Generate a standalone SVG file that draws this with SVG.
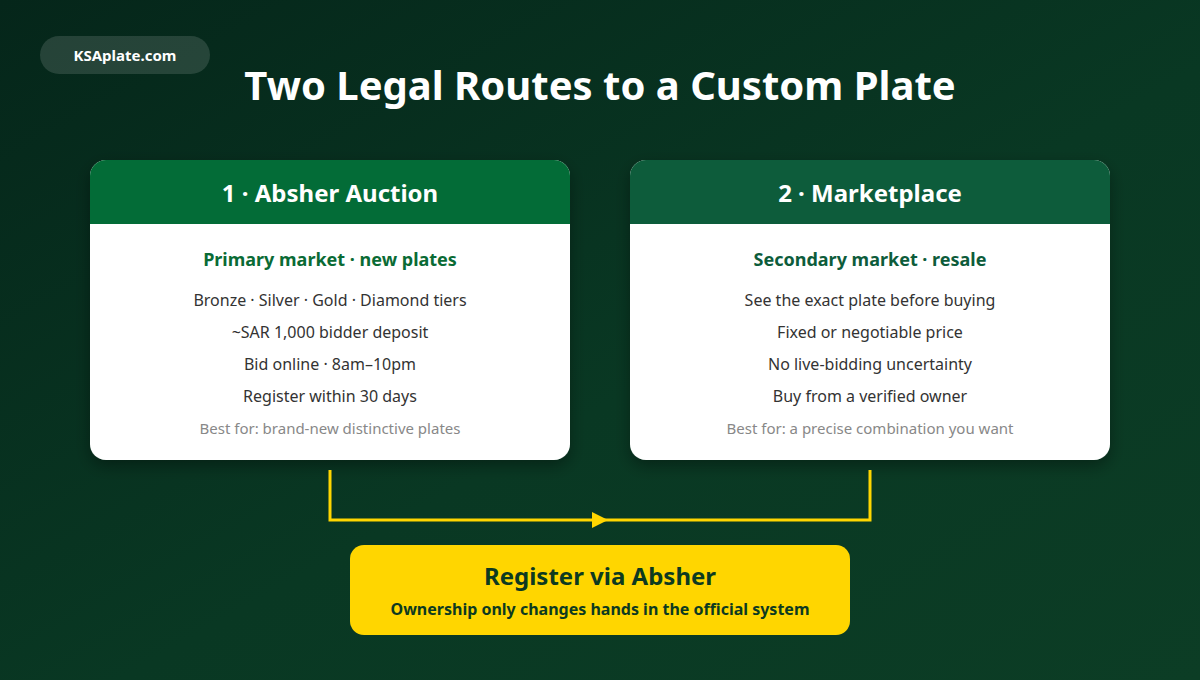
<svg xmlns="http://www.w3.org/2000/svg" width="1200" height="680" viewBox="0 0 1200 680">
<defs>
<linearGradient id="bg" x1="0" y1="0" x2="1" y2="1">
<stop offset="0" stop-color="#05261a"/>
<stop offset="0.55" stop-color="#093823"/>
<stop offset="1" stop-color="#0c3d25"/>
</linearGradient>
<filter id="sh" x="-10%" y="-10%" width="120%" height="130%">
<feDropShadow dx="0" dy="6" stdDeviation="8" flood-color="#000" flood-opacity="0.35"/>
</filter>
<clipPath id="c1"><rect x="90" y="160" width="480" height="300" rx="16"/></clipPath>
<clipPath id="c2"><rect x="630" y="160" width="480" height="300" rx="16"/></clipPath>
<marker id="arr" viewBox="0 0 16 16" refX="8" refY="8" markerWidth="16" markerHeight="16" markerUnits="userSpaceOnUse" orient="auto">
<path d="M0,0 L16,8 L0,16 Z" fill="#ffd600"/>
</marker>
</defs>
<style>
text{font-family:"Noto Sans","Open Sans","DejaVu Sans",sans-serif;text-anchor:middle}
.hdr{font-size:24px;font-weight:700;fill:#fff}
.sub{font-size:18px;font-weight:700}
.ln{font-size:16px;fill:#333}
.best{font-size:15px;fill:#888}
.conn{fill:none;stroke:#ffd600;stroke-width:3}
</style>
<rect width="1200" height="680" fill="url(#bg)"/>
<g id="badge">
<rect x="40" y="36" width="170" height="38" rx="19" fill="#ffffff" fill-opacity="0.13"/>
<text x="125" y="61" style="font-size:15px;font-weight:700;fill:#fff">KSAplate.com</text>
</g>
<g id="title">
<text x="600" y="100" style="font-size:40px;font-weight:700;fill:#fff">Two Legal Routes to a Custom Plate</text>
</g>
<g id="card1">
<rect x="90" y="160" width="480" height="300" rx="16" fill="#fff" filter="url(#sh)"/>
<rect x="90" y="160" width="480" height="64" fill="#036c37" clip-path="url(#c1)"/>
<text class="hdr" x="330" y="202">1 · Absher Auction</text>
<text class="sub" x="330" y="266" fill="#0a6b35">Primary market · new plates</text>
<text class="ln" x="330" y="306">Bronze · Silver · Gold · Diamond tiers</text>
<text class="ln" x="330" y="338">~SAR 1,000 bidder deposit</text>
<text class="ln" x="330" y="370">Bid online · 8am–10pm</text>
<text class="ln" x="330" y="402">Register within 30 days</text>
<text class="best" x="330" y="434">Best for: brand-new distinctive plates</text>
</g>
<g id="card2">
<rect x="630" y="160" width="480" height="300" rx="16" fill="#fff" filter="url(#sh)"/>
<rect x="630" y="160" width="480" height="64" fill="#0d5c3b" clip-path="url(#c2)"/>
<text class="hdr" x="870" y="202">2 · Marketplace</text>
<text class="sub" x="870" y="266" fill="#0d5c3b">Secondary market · resale</text>
<text class="ln" x="870" y="306">See the exact plate before buying</text>
<text class="ln" x="870" y="338">Fixed or negotiable price</text>
<text class="ln" x="870" y="370">No live-bidding uncertainty</text>
<text class="ln" x="870" y="402">Buy from a verified owner</text>
<text class="best" x="870" y="434">Best for: a precise combination you want</text>
</g>
<g id="connectors">
<path class="conn" d="M330,470 L330,520 L600,520" marker-end="url(#arr)"/>
<path class="conn" d="M600,520 L870,520 L870,470"/>
</g>
<g id="register">
<rect x="350" y="545" width="500" height="90" rx="14" fill="#ffd600"/>
<text x="600" y="585" style="font-size:24px;font-weight:700;fill:#0d3a20">Register via Absher</text>
<text x="600" y="615" style="font-size:16px;font-weight:700;fill:#0d3a20">Ownership only changes hands in the official system</text>
</g>
</svg>
